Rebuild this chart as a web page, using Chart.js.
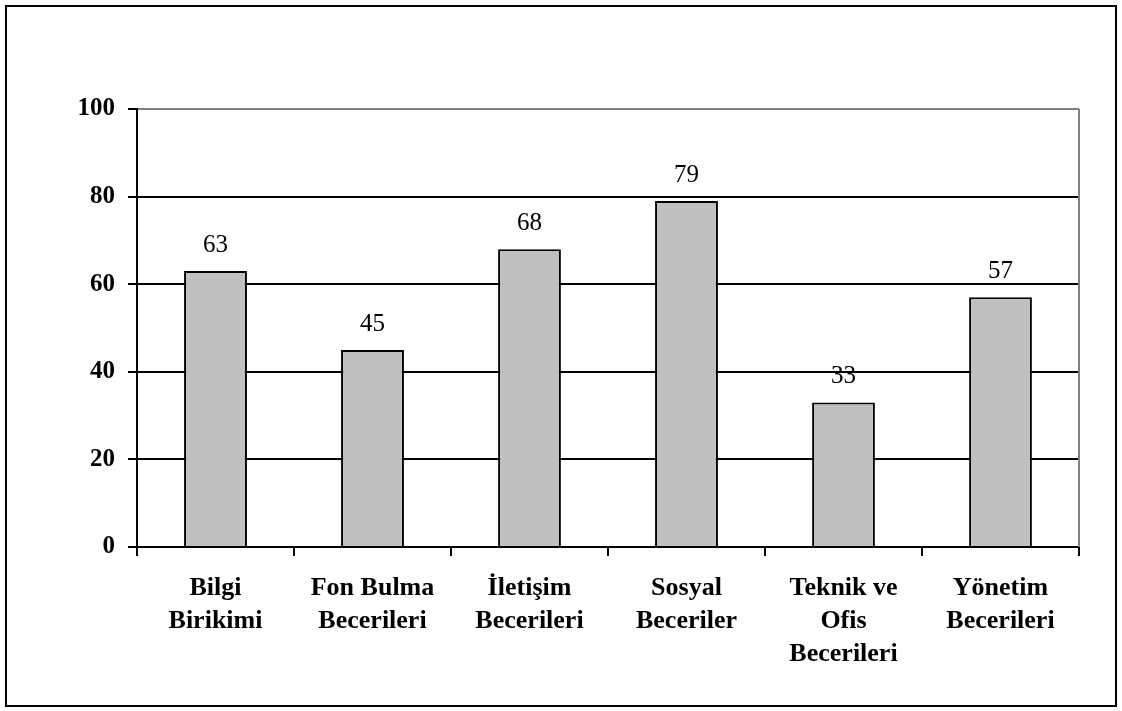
<!DOCTYPE html>
<html>
<head>
<meta charset="utf-8">
<script src="https://cdn.jsdelivr.net/npm/chart.js@4/dist/chart.umd.min.js"></script>
<style>
  body { margin: 0; background: #fff; }
  #wrap { position: relative; width: 1122px; height: 711px; }
  #frame { position: absolute; left: 5px; top: 5px; width: 1108px; height: 698px; border: 2px solid #000; pointer-events: none; }
</style>
</head>
<body>
<div id="wrap">
  <canvas id="skillsChart" width="1122" height="711"></canvas>
  <div id="frame"></div>
</div>
<script>
// chart data
const categories = [
  ['Bilgi', 'Birikimi'],
  ['Fon Bulma', 'Becerileri'],
  ['İletişim', 'Becerileri'],
  ['Sosyal', 'Beceriler'],
  ['Teknik ve', 'Ofis', 'Becerileri'],
  ['Yönetim', 'Becerileri']
];
const values = [63, 45, 68, 79, 33, 57];
const yTicks = [0, 20, 40, 60, 80, 100];

const fontFamily = '"Liberation Serif", "Times New Roman", serif';

// value labels above each bar
const barLabels = {
  id: 'barLabels',
  afterDatasetsDraw(chart) {
    const c = chart.ctx;
    const meta = chart.getDatasetMeta(0);
    c.save();
    c.font = '25px ' + fontFamily;
    c.fillStyle = '#000';
    c.textAlign = 'center';
    c.textBaseline = 'alphabetic';
    meta.data.forEach((bar, i) => {
      c.fillText(String(values[i]), bar.x, bar.y - 19);
    });
    c.restore();
  }
};

// gray plot-area edge on the right
const plotEdge = {
  id: 'plotEdge',
  beforeDatasetsDraw(chart) {
    const a = chart.chartArea;
    const c = chart.ctx;
    c.save();
    c.strokeStyle = '#808080';
    c.lineWidth = 2;
    c.beginPath();
    c.moveTo(a.right, a.top);
    c.lineTo(a.right, a.bottom);
    c.stroke();
    c.restore();
  }
};

const ctx = document.getElementById('skillsChart').getContext('2d');
const skillsChart = new Chart(ctx, {
  type: 'bar',
  data: {
    labels: categories,
    datasets: [{
      data: values,
      backgroundColor: '#c0c0c0',
      borderColor: '#000',
      borderWidth: 2,
      barPercentage: 0.4,
      categoryPercentage: 1
    }]
  },
  options: {
    responsive: false,
    animation: false,
    devicePixelRatio: 1,
    layout: { padding: { left: 0, top: 109, right: 43, bottom: 0 } },
    plugins: {
      legend: { display: false },
      tooltip: { enabled: false }
    },
    scales: {
      x: {
        offset: true,
        afterFit(scale) { scale.height = 164; },
        grid: {
          offset: true,
          color: 'rgba(0,0,0,0)',
          tickColor: '#000',
          tickLength: 9,
          lineWidth: 2
        },
        border: { color: '#000', width: 2 },
        ticks: {
          color: '#000',
          padding: 16,
          maxRotation: 0,
          autoSkip: false,
          font: { family: fontFamily, size: 26, weight: 'bold', lineHeight: '33px' }
        }
      },
      y: {
        min: 0,
        max: 100,
        afterFit(scale) { scale.width = 137; },
        afterBuildTicks(scale) { scale.ticks = yTicks.map(v => ({ value: v })); },
        grid: {
          color: c => (c.tick && c.tick.value === 100 ? '#808080' : '#000'),
          tickColor: '#000',
          tickLength: 9,
          lineWidth: 2
        },
        border: { color: '#000', width: 2 },
        ticks: {
          color: '#000',
          padding: 13,
          font: { family: fontFamily, size: 25, weight: 'bold' }
        }
      }
    }
  },
  plugins: [barLabels, plotEdge]
});
</script>
</body>
</html>
